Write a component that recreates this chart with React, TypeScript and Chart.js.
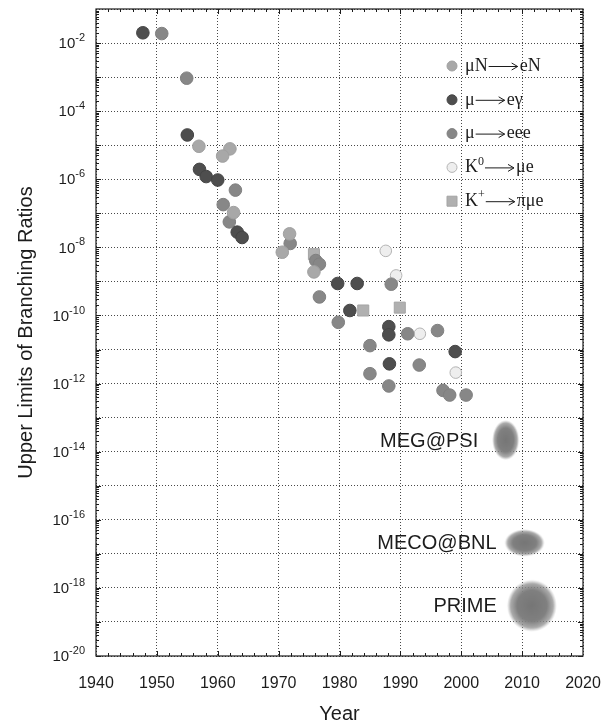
import { useEffect, useRef } from 'react';
import { Chart, registerables } from 'chart.js';

Chart.register(...registerables);

// Upper limits on charged-lepton-flavour-violating processes, by year
const muNeNYears = [1956.9, 1962.0, 1960.8, 1962.6, 1970.6, 1971.8, 1975.8];
const muNeNLimits = [9.3e-6, 7.8e-6, 4.8e-6, 1.05e-7, 7.2e-9, 2.5e-8, 1.9e-9];

const muEGammaYears = [1947.7, 1955.0, 1957.0, 1958.1, 1960.0, 1963.2, 1964.0, 1979.7, 1982.9, 1981.7, 1988.1, 1988.1, 1999.0, 1988.2];
const muEGammaLimits = [2.0e-2, 2.0e-5, 1.95e-6, 1.2e-6, 9.5e-7, 2.8e-8, 1.95e-8, 8.7e-10, 8.7e-10, 1.4e-10, 4.7e-11, 2.7e-11, 8.7e-12, 3.8e-12];

const muEeeYears = [1950.8, 1954.9, 1962.9, 1960.9, 1961.9, 1971.9, 1976.1, 1976.7, 1976.7, 1979.8, 1988.5, 1991.2, 1996.1, 1985.0, 1993.1, 1985.0, 1988.1, 1997.0, 1998.1, 2000.8];
const muEeeLimits = [1.9e-2, 9.3e-4, 4.8e-7, 1.8e-7, 5.6e-8, 1.3e-8, 4.1e-9, 3.2e-9, 3.5e-10, 6.3e-11, 8.3e-10, 2.9e-11, 3.6e-11, 1.3e-11, 3.5e-12, 1.95e-12, 8.5e-13, 6.3e-13, 4.6e-13, 4.6e-13];

const k0Years = [1987.6, 1989.3, 1993.2, 1999.1];
const k0Limits = [7.9e-9, 1.5e-9, 2.9e-11, 2.1e-12];

const kPlusYears = [1975.8, 1983.9, 1989.9];
const kPlusLimits = [6.3e-9, 1.4e-10, 1.7e-10];

// Planned experiments and their target sensitivities
const projectNames = ['MEG@PSI', 'MECO@BNL', 'PRIME'];
const projectYears = [2007.3, 2010.4, 2011.6];
const projectLimits = [2.2e-14, 2.1e-17, 3.0e-19];

const yearTicks = [1940, 1950, 1960, 1970, 1980, 1990, 2000, 2010, 2020];
const decadeExponents = [-20, -19, -18, -17, -16, -15, -14, -13, -12, -11, -10, -9, -8, -7, -6, -5, -4, -3, -2, -1];
const labelledExponents = [-20, -18, -16, -14, -12, -10, -8, -6, -4, -2];

type Seg = [string, boolean];
const legendEntries: { before: Seg[]; after: Seg[] }[] = [
  { before: [['μN', false]], after: [['eN', false]] },
  { before: [['μ', false]], after: [['eγ', false]] },
  { before: [['μ', false]], after: [['eee', false]] },
  { before: [['K', false], ['0', true]], after: [['μe', false]] },
  { before: [['K', false], ['+', true]], after: [['πμe', false]] },
];

const seriesStyles = [
  { fill: '#a8a8a8', stroke: '#a0a0a0', shape: 'circle', radius: 6.3 },
  { fill: '#4e4e4e', stroke: '#454545', shape: 'circle', radius: 6.3 },
  { fill: '#878787', stroke: '#808080', shape: 'circle', radius: 6.3 },
  { fill: '#eeeeee', stroke: '#b4b4b4', shape: 'circle', radius: 5.8 },
  { fill: '#b0b0b0', stroke: '#a4a4a4', shape: 'rect', radius: 7.8 },
];

// ellipse half-sizes (px) for the projected-sensitivity blobs, and gap to their labels
const blobShape = [
  { rx: 13.5, ry: 20, gap: 14 },
  { rx: 20, ry: 13.5, gap: 8 },
  { rx: 25, ry: 26, gap: 10 },
];

const SANS = '"Liberation Sans", Arial, Helvetica, sans-serif';
const SERIF = '"Liberation Serif", "Times New Roman", serif';
const INK = '#1c1c1c';

function makeBlob(rx: number, ry: number): HTMLCanvasElement {
  const pad = 3;
  const c = document.createElement('canvas');
  c.width = Math.ceil(2 * (rx + pad));
  c.height = Math.ceil(2 * (ry + pad));
  const g = c.getContext('2d')!;
  g.translate(c.width / 2, c.height / 2);
  g.scale(rx, ry);
  const grad = g.createRadialGradient(0, 0, 0, 0, 0, 1);
  grad.addColorStop(0, 'rgba(118,118,118,1)');
  grad.addColorStop(0.6, 'rgba(128,128,128,1)');
  grad.addColorStop(0.85, 'rgba(142,142,142,0.75)');
  grad.addColorStop(1, 'rgba(170,170,170,0)');
  g.fillStyle = grad;
  g.beginPath();
  g.arc(0, 0, 1, 0, Math.PI * 2);
  g.fill();
  return c;
}

function pairs(xs: number[], ys: number[]) {
  return xs.map((x, i) => ({ x, y: ys[i] }));
}

function drawSegs(ctx: CanvasRenderingContext2D, segs: Seg[], x: number, y: number) {
  for (const [t, sup] of segs) {
    ctx.font = sup ? `12px ${SERIF}` : `18px ${SERIF}`;
    ctx.fillText(t, x, sup ? y - 6 : y);
    x += ctx.measureText(t).width;
  }
  return x;
}

const decorations = {
  id: 'decorations',
  afterDraw(chart: any) {
    const { ctx, chartArea } = chart;
    const { left, right, top, bottom } = chartArea;
    const xs = chart.scales.x;
    const ys = chart.scales.y;
    ctx.save();

    // frame
    ctx.strokeStyle = INK;
    ctx.lineWidth = 1.2;
    ctx.strokeRect(left, top, right - left, bottom - top);

    // inward minor ticks
    ctx.lineWidth = 1;
    ctx.beginPath();
    for (let yr = 1942; yr < 2020; yr += 2) {
      const px = Math.round(xs.getPixelForValue(yr)) + 0.5;
      const len = yr % 10 === 0 ? 5 : 3;
      ctx.moveTo(px, bottom);
      ctx.lineTo(px, bottom - len);
      ctx.moveTo(px, top);
      ctx.lineTo(px, top + len);
    }
    for (const e of decadeExponents) {
      if (e >= -1) continue;
      for (let m = 1; m <= 9; m++) {
        const py = Math.round(ys.getPixelForValue(m * Number(`1e${e}`))) + 0.5;
        const len = m === 1 ? 5 : 3;
        ctx.moveTo(left, py);
        ctx.lineTo(left + len, py);
        ctx.moveTo(right, py);
        ctx.lineTo(right - len, py);
      }
    }
    ctx.stroke();

    // y tick labels as powers of ten
    ctx.fillStyle = INK;
    ctx.textBaseline = 'middle';
    ctx.textAlign = 'left';
    for (const e of labelledExponents) {
      const py = ys.getPixelForValue(Number(`1e${e}`));
      const sup = String(e);
      ctx.font = `11px ${SANS}`;
      const supW = ctx.measureText(sup).width;
      ctx.font = `15px ${SANS}`;
      const baseW = ctx.measureText('10').width;
      const xEnd = left - 11;
      ctx.fillText('10', xEnd - supW - baseW, py + 1);
      ctx.font = `11px ${SANS}`;
      ctx.fillText(sup, xEnd - supW, py - 5);
    }

    // legend
    const mx = right - 131;
    const tx = right - 118;
    legendEntries.forEach((entry, i) => {
      const y = top + 57 + i * 33.8;
      const st = seriesStyles[i];
      ctx.fillStyle = st.fill;
      ctx.strokeStyle = st.stroke;
      ctx.lineWidth = 1;
      ctx.beginPath();
      if (st.shape === 'rect') ctx.rect(mx - 5, y - 5, 10, 10);
      else ctx.arc(mx, y, 5, 0, Math.PI * 2);
      ctx.fill();
      ctx.stroke();

      ctx.fillStyle = INK;
      let x = drawSegs(ctx, entry.before, tx, y);
      const ax0 = x + 1;
      const ax1 = x + 30;
      ctx.strokeStyle = INK;
      ctx.lineWidth = 1;
      ctx.beginPath();
      ctx.moveTo(ax0, y + 0.5);
      ctx.lineTo(ax1, y + 0.5);
      ctx.moveTo(ax1 - 6, y - 3);
      ctx.lineTo(ax1, y + 0.5);
      ctx.lineTo(ax1 - 6, y + 4);
      ctx.stroke();
      drawSegs(ctx, entry.after, ax1 + 2, y);
    });

    // labels of the planned experiments
    const meta = chart.getDatasetMeta(5);
    ctx.font = `20px ${SANS}`;
    ctx.fillStyle = INK;
    ctx.textAlign = 'right';
    ctx.textBaseline = 'middle';
    meta.data.forEach((pt: any, i: number) => {
      const b = blobShape[i];
      ctx.fillText(projectNames[i], pt.x - b.rx - b.gap, pt.y + 1);
    });

    ctx.restore();
  },
};

export default function App() {
  const ref = useRef<HTMLCanvasElement>(null);

  useEffect(() => {
    document.body.style.margin = '0';
    const canvas = ref.current!;
    const blobs = blobShape.map((b) => makeBlob(b.rx, b.ry));
    const seriesData = [
      pairs(muNeNYears, muNeNLimits),
      pairs(muEGammaYears, muEGammaLimits),
      pairs(muEeeYears, muEeeLimits),
      pairs(k0Years, k0Limits),
      pairs(kPlusYears, kPlusLimits),
    ];
    const names = ['μN→eN', 'μ→eγ', 'μ→eee', 'K⁰→μe', 'K⁺→πμe'];
    const datasets: any[] = seriesData.map((data, i) => ({
      label: names[i],
      data,
      backgroundColor: seriesStyles[i].fill,
      borderColor: seriesStyles[i].stroke,
      pointBackgroundColor: seriesStyles[i].fill,
      pointBorderColor: seriesStyles[i].stroke,
      pointBorderWidth: 1,
      pointRadius: seriesStyles[i].radius,
      pointStyle: seriesStyles[i].shape,
    }));
    datasets.push({
      label: 'projects',
      data: pairs(projectYears, projectLimits),
      pointStyle: blobs,
      pointRadius: 20,
      pointBorderWidth: 0,
    });

    const gridColor = 'rgba(40,40,40,0.85)';
    const chart = new Chart(canvas, {
      type: 'scatter',
      data: { datasets },
      options: {
        responsive: false,
        animation: false,
        events: [],
        layout: { autoPadding: false, padding: { top: 9, right: 26, left: 0, bottom: 0 } },
        plugins: { legend: { display: false }, tooltip: { enabled: false } },
        scales: {
          x: {
            type: 'linear',
            min: 1940,
            max: 2020,
            afterBuildTicks: (s: any) => {
              s.ticks = yearTicks.map((v) => ({ value: v }));
            },
            afterFit: (s: any) => {
              s.height = 68;
            },
            grid: {
              color: gridColor,
              lineWidth: 1,
              drawTicks: true,
              tickLength: 18,
              tickColor: 'rgba(0,0,0,0)',
            },
            border: { display: false, dash: [1, 2] },
            ticks: {
              padding: 0,
              color: INK,
              font: { family: SANS, size: 16 },
              maxRotation: 0,
              autoSkip: false,
              callback: (v: any) => String(v),
            },
            title: {
              display: true,
              text: 'Year',
              color: INK,
              font: { family: SANS, size: 20, lineHeight: 1 },
              padding: { top: 0, bottom: 0 },
            },
          },
          y: {
            type: 'logarithmic',
            min: 1e-20,
            max: 1e-1,
            afterBuildTicks: (s: any) => {
              s.ticks = decadeExponents.map((e) => ({ value: Number(`1e${e}`) }));
            },
            afterFit: (s: any) => {
              s.width = 96;
            },
            grid: { color: gridColor, lineWidth: 1, drawTicks: false },
            border: { display: false, dash: [1, 2] },
            ticks: { display: false },
            title: {
              display: true,
              text: 'Upper Limits of Branching Ratios',
              color: INK,
              font: { family: SANS, size: 20, lineHeight: 1 },
              padding: { top: 16, bottom: 0 },
            },
          },
        },
      },
      plugins: [decorations],
    } as any);

    return () => chart.destroy();
  }, []);

  return <canvas ref={ref} width={609} height={724} style={{ display: 'block' }} />;
}
